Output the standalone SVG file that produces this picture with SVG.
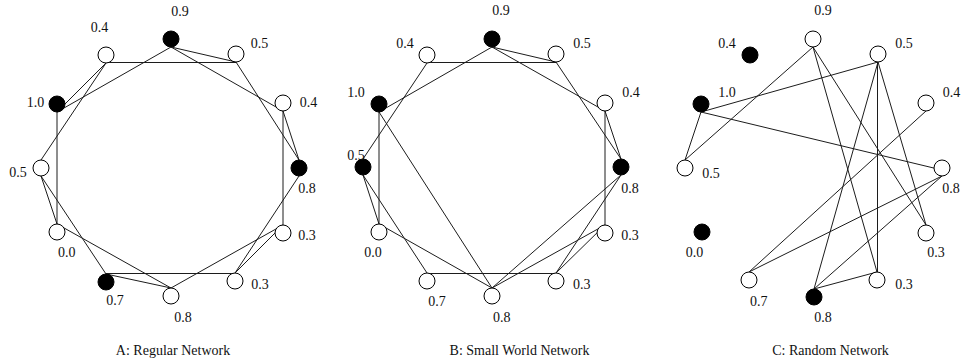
<svg xmlns="http://www.w3.org/2000/svg" width="961" height="363" viewBox="0 0 961 363">
<style>
.bg{fill:#fff}
.e line{stroke:#1c1c1c;stroke-width:1;fill:none}
circle{stroke:#000;stroke-width:1}
.o{fill:#fff}
.f{fill:#000}
text{font-family:"Liberation Serif","Times New Roman",serif;font-size:14px;fill:#111;text-anchor:middle}
.cap{font-size:14px}
</style>
<rect class="bg" x="0" y="0" width="961" height="363"/>
<g id="connectors" class="e">
  <g id="edges-A">
    <line x1="171" y1="47" x2="236" y2="62"/>
    <line x1="171" y1="47" x2="283" y2="111"/>
    <line x1="171" y1="47" x2="57" y2="112"/>
    <line x1="106" y1="62.5" x2="236" y2="62.5"/>
    <line x1="236" y1="62" x2="299" y2="160"/>
    <line x1="283" y1="111" x2="299" y2="160"/>
    <line x1="283" y1="111" x2="283" y2="225"/>
    <line x1="299" y1="176" x2="235" y2="273"/>
    <line x1="283" y1="225" x2="235" y2="273"/>
    <line x1="283" y1="225" x2="171" y2="288"/>
    <line x1="235" y1="273.5" x2="106" y2="273.5"/>
    <line x1="171" y1="288" x2="106" y2="274"/>
    <line x1="171" y1="288" x2="57" y2="224"/>
    <line x1="106" y1="274" x2="41" y2="176"/>
    <line x1="57" y1="224" x2="41" y2="176"/>
    <line x1="57" y1="224" x2="57" y2="112"/>
    <line x1="41" y1="160" x2="106" y2="63"/>
    <line x1="57" y1="112" x2="106" y2="63"/>
  </g>
  <g id="edges-B">
    <line x1="492" y1="47" x2="556" y2="62"/>
    <line x1="492" y1="47" x2="605" y2="111"/>
    <line x1="492" y1="47" x2="379" y2="112"/>
    <line x1="427" y1="62.5" x2="556" y2="62.5"/>
    <line x1="556" y1="62" x2="621" y2="159"/>
    <line x1="605" y1="111" x2="621" y2="159"/>
    <line x1="605" y1="111" x2="605" y2="225"/>
    <line x1="621" y1="175" x2="556" y2="273"/>
    <line x1="605" y1="225" x2="556" y2="273"/>
    <line x1="605" y1="225" x2="492" y2="288"/>
    <line x1="556" y1="273.5" x2="427" y2="273.5"/>
    <line x1="492" y1="288" x2="379" y2="224"/>
    <line x1="427" y1="273" x2="363" y2="175"/>
    <line x1="379" y1="224" x2="363" y2="175"/>
    <line x1="379" y1="224" x2="379" y2="112"/>
    <line x1="363" y1="159" x2="427" y2="63"/>
    <line x1="379" y1="112" x2="492" y2="288"/>
    <line x1="621" y1="175" x2="492" y2="288"/>
  </g>
  <g id="edges-C">
    <line x1="701" y1="112" x2="878" y2="62"/>
    <line x1="701" y1="112" x2="685" y2="160"/>
    <line x1="701" y1="112" x2="942" y2="170"/>
    <line x1="813" y1="47" x2="685" y2="160"/>
    <line x1="813" y1="47" x2="926" y2="225"/>
    <line x1="813" y1="47" x2="877" y2="272"/>
    <line x1="877.5" y1="62" x2="877.5" y2="272"/>
    <line x1="878" y1="62" x2="814" y2="289"/>
    <line x1="878" y1="62" x2="926" y2="225"/>
    <line x1="926" y1="111" x2="749" y2="272"/>
    <line x1="942" y1="176" x2="749" y2="272"/>
    <line x1="942" y1="176" x2="814" y2="289"/>
    <line x1="814" y1="289" x2="877" y2="272"/>
  </g>
</g>
<g id="panel-A">
  <g id="A-n0"><circle class="f" cx="171" cy="39" r="8"/><text x="180" y="16">0.9</text></g>
  <g id="A-n1"><circle class="o" cx="236" cy="54" r="8"/><text x="259.5" y="48.3">0.5</text></g>
  <g id="A-n2"><circle class="o" cx="283" cy="103" r="8"/><text x="308.5" y="107">0.4</text></g>
  <g id="A-n3"><circle class="f" cx="299" cy="168" r="8"/><text x="307" y="192.7">0.8</text></g>
  <g id="A-n4"><circle class="o" cx="283" cy="233" r="8"/><text x="307" y="240">0.3</text></g>
  <g id="A-n5"><circle class="o" cx="235" cy="281" r="8"/><text x="260" y="289.3">0.3</text></g>
  <g id="A-n6"><circle class="o" cx="171" cy="296" r="8"/><text x="183" y="321.7">0.8</text></g>
  <g id="A-n7"><circle class="f" cx="106" cy="282" r="8"/><text x="115" y="305">0.7</text></g>
  <g id="A-n8"><circle class="o" cx="57" cy="232" r="8"/><text x="66.7" y="257">0.0</text></g>
  <g id="A-n9"><circle class="o" cx="41" cy="168" r="8"/><text x="18" y="177">0.5</text></g>
  <g id="A-n10"><circle class="f" cx="57" cy="104" r="8"/><text x="35.5" y="107">1.0</text></g>
  <g id="A-n11"><circle class="o" cx="106" cy="55" r="8"/><text x="99.5" y="31.7">0.4</text></g>
  <text class="cap" x="173" y="355">A: Regular Network</text>
</g>
<g id="panel-B">
  <g id="B-n0"><circle class="f" cx="492" cy="39" r="8"/><text x="501" y="15.3">0.9</text></g>
  <g id="B-n1"><circle class="o" cx="556" cy="54" r="8"/><text x="582" y="48.3">0.5</text></g>
  <g id="B-n2"><circle class="o" cx="605" cy="103" r="8"/><text x="631" y="97.3">0.4</text></g>
  <g id="B-n3"><circle class="f" cx="621" cy="167" r="8"/><text x="630" y="192.7">0.8</text></g>
  <g id="B-n4"><circle class="o" cx="605" cy="233" r="8"/><text x="630" y="240">0.3</text></g>
  <g id="B-n5"><circle class="o" cx="556" cy="281" r="8"/><text x="581.7" y="289.3">0.3</text></g>
  <g id="B-n6"><circle class="o" cx="492" cy="296" r="8"/><text x="501.7" y="321.7">0.8</text></g>
  <g id="B-n7"><circle class="o" cx="427" cy="281" r="8"/><text x="437" y="306">0.7</text></g>
  <g id="B-n8"><circle class="o" cx="379" cy="232" r="8"/><text x="373" y="257.3">0.0</text></g>
  <g id="B-n9"><circle class="f" cx="363" cy="167" r="8"/><text x="356" y="160">0.5</text></g>
  <g id="B-n10"><circle class="f" cx="379" cy="104" r="8"/><text x="356" y="97.3">1.0</text></g>
  <g id="B-n11"><circle class="o" cx="427" cy="55" r="8"/><text x="405" y="48.3">0.4</text></g>
  <text class="cap" x="519.5" y="355">B: Small World Network</text>
</g>
<g id="panel-C">
  <g id="C-n0"><circle class="o" cx="813" cy="39" r="8"/><text x="823" y="15.3">0.9</text></g>
  <g id="C-n1"><circle class="o" cx="878" cy="54" r="8"/><text x="904" y="48.3">0.5</text></g>
  <g id="C-n2"><circle class="o" cx="926" cy="103" r="8"/><text x="951.5" y="97.3">0.4</text></g>
  <g id="C-n3"><circle class="o" cx="942" cy="168" r="8"/><text x="951" y="192.7">0.8</text></g>
  <g id="C-n4"><circle class="o" cx="926" cy="233" r="8"/><text x="936" y="257.3">0.3</text></g>
  <g id="C-n5"><circle class="o" cx="877" cy="280" r="8"/><text x="904" y="289.3">0.3</text></g>
  <g id="C-n6"><circle class="f" cx="814" cy="297" r="8"/><text x="823" y="321.7">0.8</text></g>
  <g id="C-n7"><circle class="o" cx="749" cy="280" r="8"/><text x="758.7" y="306">0.7</text></g>
  <g id="C-n8"><circle class="f" cx="702" cy="232" r="8"/><text x="694.5" y="257.3">0.0</text></g>
  <g id="C-n9"><circle class="o" cx="685" cy="168" r="8"/><text x="711" y="178.3">0.5</text></g>
  <g id="C-n10"><circle class="f" cx="701" cy="104" r="8"/><text x="727" y="97.3">1.0</text></g>
  <g id="C-n11"><circle class="f" cx="750" cy="55" r="8"/><text x="727" y="48.3">0.4</text></g>
  <text class="cap" x="830.5" y="355">C: Random Network</text>
</g>
</svg>
